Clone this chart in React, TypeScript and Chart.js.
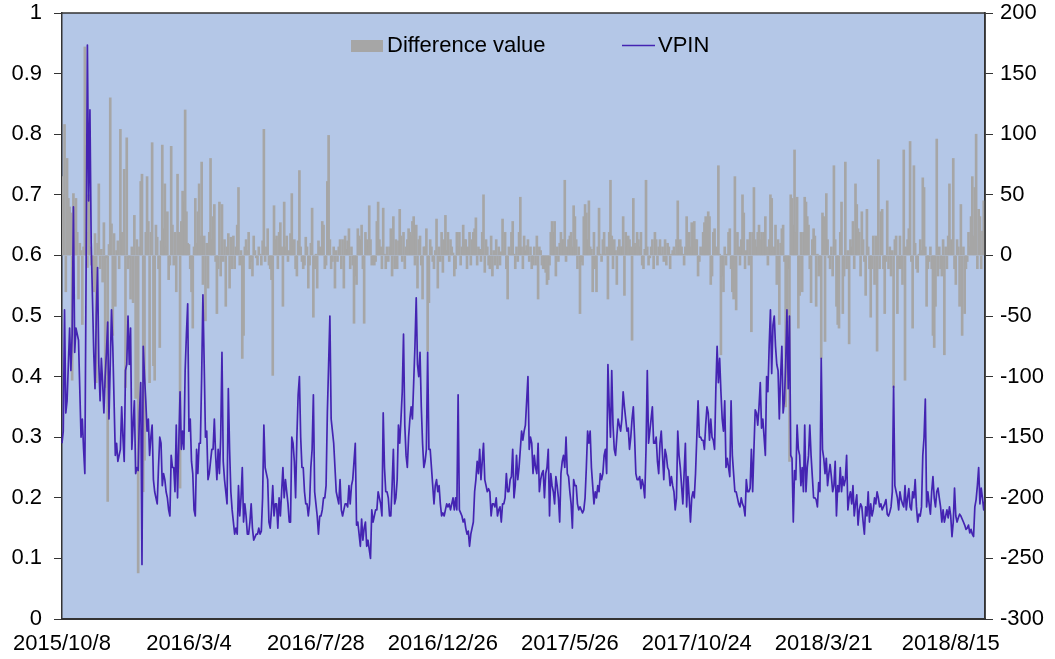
import React, { useEffect, useRef } from "react";
import { Chart, registerables } from "chart.js";

Chart.register(...registerables);

// ---- data ----
const tickDates = ["2015/10/8", "2016/3/4", "2016/7/28", "2016/12/26", "2017/5/26", "2017/10/24", "2018/3/21", "2018/8/15"];
const tickEvery = 100;

const vpin = [
  0.29, 0.31, 0.51, 0.34, 0.36, 0.42, 0.48, 0.41, 0.47, 0.68,
  0.44, 0.48, 0.47, 0.46, 0.38, 0.30, 0.33, 0.28, 0.24, 0.58,
  0.947, 0.69, 0.84, 0.62, 0.53, 0.44, 0.38, 0.50, 0.58, 0.42,
  0.36, 0.43, 0.39, 0.34, 0.40, 0.44, 0.49, 0.33, 0.42, 0.51,
  0.45, 0.36, 0.27, 0.29, 0.26, 0.27, 0.28, 0.35, 0.30, 0.26,
  0.41, 0.42, 0.50, 0.42, 0.48, 0.28, 0.32, 0.36, 0.24, 0.25,
  0.245, 0.34, 0.39, 0.09, 0.45, 0.40, 0.36, 0.31, 0.33, 0.27,
  0.30, 0.32, 0.23, 0.21, 0.20, 0.19, 0.25, 0.30, 0.29, 0.22,
  0.24, 0.23, 0.21, 0.20, 0.18, 0.17, 0.27, 0.25, 0.25, 0.21,
  0.32, 0.20, 0.29, 0.375, 0.28, 0.31, 0.28, 0.41, 0.47, 0.52,
  0.31, 0.33, 0.26, 0.24, 0.18, 0.17, 0.28, 0.24, 0.29, 0.29,
  0.40, 0.535, 0.42, 0.30, 0.31, 0.23, 0.24, 0.26, 0.28, 0.28,
  0.33, 0.27, 0.23, 0.28, 0.24, 0.30, 0.44, 0.26, 0.23, 0.21,
  0.19, 0.38, 0.28, 0.21, 0.18, 0.16, 0.14, 0.15, 0.14, 0.22,
  0.17, 0.20, 0.25, 0.16, 0.19, 0.17, 0.14, 0.14, 0.16, 0.19,
  0.15, 0.13, 0.135, 0.14, 0.14, 0.15, 0.14, 0.145, 0.20, 0.32,
  0.25, 0.24, 0.23, 0.16, 0.15, 0.18, 0.22, 0.17, 0.19, 0.19,
  0.15, 0.20, 0.17, 0.21, 0.25, 0.20, 0.23, 0.21, 0.19, 0.16,
  0.16, 0.30, 0.29, 0.26, 0.20, 0.30, 0.37, 0.40, 0.30, 0.25,
  0.25, 0.21, 0.19, 0.19, 0.17, 0.19, 0.25, 0.28, 0.37, 0.21,
  0.19, 0.17, 0.14, 0.17, 0.17, 0.18, 0.20, 0.20, 0.22, 0.34,
  0.42, 0.50, 0.33, 0.31, 0.29, 0.25, 0.21, 0.20, 0.19, 0.23,
  0.18, 0.17, 0.18, 0.19, 0.19, 0.185, 0.22, 0.19, 0.22, 0.23,
  0.26, 0.29, 0.155, 0.16, 0.14, 0.12, 0.165, 0.13, 0.15, 0.16,
  0.12, 0.13, 0.115, 0.10, 0.18, 0.16, 0.17, 0.18, 0.18, 0.21,
  0.20, 0.19, 0.17, 0.34, 0.25, 0.21, 0.21, 0.20, 0.17, 0.17,
  0.22, 0.28, 0.19, 0.20, 0.23, 0.32, 0.29, 0.33, 0.375, 0.47,
  0.32, 0.27, 0.25, 0.30, 0.33, 0.35, 0.33, 0.39, 0.45, 0.53,
  0.42, 0.40, 0.44, 0.35, 0.29, 0.25, 0.26, 0.28, 0.44, 0.28,
  0.28, 0.25, 0.22, 0.19, 0.22, 0.23, 0.21, 0.22, 0.19, 0.17,
  0.175, 0.17, 0.18, 0.19, 0.185, 0.19, 0.18, 0.19, 0.20, 0.18,
  0.20, 0.18, 0.37, 0.18, 0.175, 0.17, 0.16, 0.165, 0.15, 0.14,
  0.145, 0.12, 0.14, 0.15, 0.16, 0.21, 0.23, 0.26, 0.24, 0.28,
  0.23, 0.26, 0.29, 0.23, 0.22, 0.21, 0.215, 0.21, 0.17, 0.19,
  0.19, 0.185, 0.20, 0.17, 0.18, 0.185, 0.16, 0.19, 0.19, 0.20,
  0.24, 0.21, 0.21, 0.23, 0.235, 0.28, 0.20, 0.22, 0.27, 0.23,
  0.25, 0.28, 0.31, 0.295, 0.31, 0.32, 0.36, 0.40, 0.28, 0.30,
  0.29, 0.24, 0.27, 0.25, 0.24, 0.29, 0.21, 0.23, 0.24, 0.245,
  0.20, 0.24, 0.25, 0.28, 0.17, 0.24, 0.22, 0.21, 0.19, 0.235,
  0.22, 0.20, 0.16, 0.24, 0.26, 0.27, 0.25, 0.30, 0.24, 0.235,
  0.21, 0.19, 0.15, 0.23, 0.22, 0.22, 0.19, 0.18, 0.185, 0.18,
  0.175, 0.18, 0.20, 0.25, 0.31, 0.29, 0.31, 0.25, 0.22, 0.19,
  0.21, 0.20, 0.22, 0.21, 0.24, 0.23, 0.24, 0.27, 0.28, 0.24,
  0.42, 0.35, 0.30, 0.41, 0.32, 0.28, 0.27, 0.30, 0.33, 0.32,
  0.31, 0.33, 0.375, 0.35, 0.33, 0.31, 0.315, 0.28, 0.30, 0.33,
  0.35, 0.30, 0.24, 0.23, 0.23, 0.235, 0.215, 0.23, 0.22, 0.20,
  0.28, 0.41, 0.29, 0.31, 0.33, 0.35, 0.29, 0.29, 0.30, 0.26,
  0.24, 0.29, 0.31, 0.27, 0.23, 0.28, 0.27, 0.25, 0.245, 0.22,
  0.235, 0.22, 0.21, 0.18, 0.20, 0.31, 0.27, 0.25, 0.22, 0.19,
  0.24, 0.29, 0.185, 0.235, 0.20, 0.16, 0.20, 0.21, 0.20, 0.24,
  0.30, 0.36, 0.30, 0.30, 0.295, 0.295, 0.28, 0.32, 0.35, 0.34,
  0.295, 0.33, 0.30, 0.295, 0.28, 0.38, 0.45, 0.39, 0.43, 0.375,
  0.33, 0.31, 0.36, 0.25, 0.265, 0.25, 0.235, 0.36, 0.27, 0.24,
  0.21, 0.21, 0.20, 0.19, 0.185, 0.20, 0.19, 0.185, 0.17, 0.23,
  0.21, 0.21, 0.216, 0.28, 0.21, 0.28, 0.345, 0.34, 0.32, 0.35,
  0.39, 0.315, 0.33, 0.30, 0.27, 0.40, 0.375, 0.45, 0.51, 0.405,
  0.485, 0.50, 0.45, 0.42, 0.41, 0.33, 0.40, 0.45, 0.34, 0.36,
  0.42, 0.51, 0.38, 0.50, 0.27, 0.265, 0.16, 0.245, 0.23, 0.32,
  0.28, 0.27, 0.22, 0.25, 0.21, 0.32, 0.21, 0.25, 0.27, 0.32,
  0.27, 0.235, 0.20, 0.20, 0.197, 0.185, 0.225, 0.21, 0.43, 0.28,
  0.265, 0.24, 0.265, 0.22, 0.24, 0.255, 0.235, 0.21, 0.22, 0.26,
  0.17, 0.22, 0.21, 0.25, 0.21, 0.235, 0.22, 0.23, 0.27, 0.18,
  0.20, 0.21, 0.19, 0.22, 0.17, 0.19, 0.205, 0.155, 0.18, 0.19,
  0.185, 0.16, 0.14, 0.185, 0.17, 0.21, 0.16, 0.19, 0.17, 0.18,
  0.20, 0.19, 0.21, 0.20, 0.185, 0.19, 0.18, 0.185, 0.19, 0.197,
  0.173, 0.17, 0.176, 0.185, 0.21, 0.384, 0.22, 0.21, 0.20, 0.18,
  0.21, 0.197, 0.19, 0.185, 0.22, 0.18, 0.20, 0.215, 0.185, 0.18,
  0.21, 0.20, 0.23, 0.185, 0.16, 0.173, 0.17, 0.185, 0.27, 0.30,
  0.363, 0.185, 0.21, 0.19, 0.173, 0.21, 0.235, 0.20, 0.185, 0.21,
  0.216, 0.20, 0.185, 0.16, 0.18, 0.16, 0.17, 0.18, 0.167, 0.185,
  0.17, 0.136, 0.16, 0.216, 0.17, 0.16, 0.167, 0.173, 0.17, 0.165,
  0.16, 0.155, 0.148, 0.15, 0.155, 0.142, 0.148, 0.14, 0.136, 0.185,
  0.197, 0.22, 0.25, 0.19, 0.216, 0.20, 0.18, 0.197,
];

const differenceValue = [
  65, 50, 108, -30, 80, 47, 40, 35, -103, 51,
  38, 47, 19, -36, 10, 4, -57, 7, 172, 19,
  -10, 50, 7, -8, -5, -30, 18, -105, 10, 59,
  -11, 5, -22, 27, -109, -2, -203, 9, 130, 26,
  -66, 18, -42, 4, 12, -11, 104, 19, 13, 71,
  -109, 97, -11, -2, -36, 7, -39, 33, -118, 13,
  -262, 7, 61, 67, -195, -169, 19, 65, 28, -105,
  19, 93, -91, -103, 25, 15, -11, -76, 12, 91,
  22, 59, 7, 36, -20, -8, 90, 25, -8, 19,
  -30, 67, 19, -192, 28, 53, 44, 120, 36, 10,
  9, -11, -30, -60, 7, 47, 10, 36, 59, 16,
  77, -24, 16, -54, 10, -27, 19, 80, 13, 32,
  42, -5, -48, -11, 44, -17, 42, -5, 13, -42,
  7, 18, -27, 15, -11, 16, -11, 7, 25, 56,
  -8, 4, -85, -66, 7, 13, 4, 19, -11, -5,
  -17, 16, 4, -2, -8, 7, 1, -8, 12, 104,
  -5, 7, 22, -8, -11, -20, -99, 41, 13, 16,
  -11, 19, 27, 7, -42, 44, 7, 16, -5, 4,
  18, 51, 7, 13, -11, -17, 12, 70, 7, -5,
  -11, -8, 15, 7, -27, -8, 10, 39, -51, -11,
  1, -27, 12, 7, 4, 28, 25, -11, -8, 61,
  99, 13, -11, -5, 7, -27, 4, -5, 7, 13,
  -11, 13, -27, 16, 5, 12, 22, -11, 7, -8,
  -56, -17, -24, 22, 16, 13, 25, -11, -56, 19,
  13, 7, 41, 13, -8, -3, -8, -5, 28, 44,
  13, 7, -11, 39, 1, -11, 7, -5, 7, 22,
  -17, 32, -11, 13, -11, 12, 38, 16, -5, 19,
  -11, 7, 13, 22, 19, 16, 28, 32, -8, 25,
  -27, 13, 16, -8, -36, 7, 7, 22, -79, -39,
  13, 7, -5, -11, 4, 30, -27, 7, -5, 19,
  -14, 13, 33, 4, 19, -5, 13, 7, 2, -17,
  -11, 19, 7, 19, -8, 7, 25, 13, 13, -11,
  7, 19, -8, 13, 19, 22, 31, -8, 7, 5,
  -5, 19, 50, -14, 13, 7, -8, -11, 16, -17,
  4, -8, 13, -11, 7, -8, 3, 30, 4, 19,
  -11, -36, 7, 1, 19, 28, 1, -11, 7, -5,
  19, 48, 7, -11, 16, 4, 8, 13, -5, 7,
  -11, -8, 7, -8, 16, -36, 7, 4, -8, -11,
  -11, -14, -24, -20, -8, 19, 28, 19, 28, -17,
  7, -5, 10, 19, 13, 13, 62, -5, 7, 13,
  16, 19, 7, 41, 32, 13, -11, 7, -48, -5,
  -8, 32, 42, 35, 13, 45, 7, 5, -30, 19,
  -11, -30, 7, 39, 1, -5, 13, 19, 1, 7,
  -36, 19, 62, 16, -11, 13, 4, -24, 7, 13,
  7, 7, 32, -33, 19, 7, 16, 13, 7, -70,
  47, 10, 7, 19, 13, 7, 19, -8, -11, 5,
  62, 7, -8, -2, 7, 13, -11, 19, 13, -8,
  7, 13, 1, 7, -5, 13, -8, 10, 7, -11,
  1, 4, 7, 1, 13, 45, 7, 13, 7, 1,
  -8, 7, 32, 1, 19, 7, 27, 19, 28, 13,
  13, -17, -5, 7, 1, 19, 27, 32, 25, 36,
  32, -24, -17, 19, 22, 7, 4, 74, 1, -82,
  -17, -30, 7, -8, 1, 19, 22, -11, -30, -36,
  65, -45, 19, 7, -8, 13, 50, 35, -11, 4,
  13, -8, 19, -63, 19, 56, 13, 7, 19, 25,
  13, 19, 13, 19, 32, 7, -8, 13, 50, 47,
  3, 7, 25, -24, 13, -57, 10, 22, 25, -5,
  -125, -48, -11, -170, 50, 47, 25, 87, 19, 48,
  -60, -33, 19, -30, 19, 48, 44, 32, 25, -11,
  -39, 13, 22, 16, -42, 1, -17, -8, -85, 35,
  32, -71, 51, 13, -2, -11, 7, -17, 74, 13,
  -42, -57, -60, 19, 44, -48, -17, 77, -11, 4,
  -73, 13, 7, 28, -11, 59, 42, 22, 19, -17,
  36, 13, -5, -33, 38, 7, -11, -51, -11, 16,
  -24, 16, -79, 79, -11, 36, 38, -11, -48, -5,
  45, -11, 7, -17, 4, -109, 13, 16, -48, -11,
  16, -11, -24, 87, -103, 7, 13, 22, 94, -5,
  -60, 74, 10, -11, -14, 1, 13, 4, 64, 56,
  7, -42, -11, -5, 7, -11, -66, -76, -42, 96,
  -17, 7, -11, -17, 13, -82, 7, -11, 16, 59,
  13, 7, 80, -11, -24, 13, 7, -42, 42, -66,
  7, -48, -11, -5, 19, 7, 32, 65, 16, 56,
  100, -11, 38, 32, -11, 20, 45, 40,
];

const seriesNames = ["Difference value", "VPIN"];

// ---- styles ----
const BAR_COLOR = "#A6A6A6";
const LINE_COLOR = "#4424B2";
const PLOT_BG = "#B4C7E7";
const AXIS_COLOR = "#333333";
const FONT = { family: '"Liberation Sans", Arial, sans-serif', size: 22 };

const plotBackground = {
  id: "plotBackground",
  beforeDraw(chart: any) {
    const { ctx, chartArea } = chart;
    ctx.save();
    ctx.fillStyle = PLOT_BG;
    ctx.fillRect(chartArea.left, chartArea.top, chartArea.right - chartArea.left, chartArea.bottom - chartArea.top);
    ctx.restore();
  },
  afterDraw(chart: any) {
    const { ctx, chartArea } = chart;
    ctx.save();
    ctx.strokeStyle = AXIS_COLOR;
    ctx.lineWidth = 1.5;
    ctx.beginPath();
    ctx.moveTo(chartArea.left, chartArea.top);
    ctx.lineTo(chartArea.right, chartArea.top);
    ctx.lineTo(chartArea.right, chartArea.bottom);
    ctx.stroke();
    ctx.restore();
  },
};

const inlineLegend = {
  id: "inlineLegend",
  afterDraw(chart: any) {
    const { ctx, chartArea } = chart;
    const x0 = chartArea.left;
    const y0 = chartArea.top;
    const labels = chart.data.datasets.map((d: any) => d.label);
    ctx.save();
    ctx.font = `${FONT.size}px ${FONT.family}`;
    ctx.textBaseline = "middle";
    ctx.textAlign = "left";
    // bar item
    ctx.fillStyle = BAR_COLOR;
    ctx.fillRect(x0 + 289, y0 + 27, 32, 12);
    ctx.fillStyle = "#000";
    ctx.fillText(labels[1], x0 + 325, y0 + 33);
    // line item
    ctx.strokeStyle = LINE_COLOR;
    ctx.lineWidth = 1.5;
    ctx.beginPath();
    ctx.moveTo(x0 + 560, y0 + 32.5);
    ctx.lineTo(x0 + 593, y0 + 32.5);
    ctx.stroke();
    ctx.fillStyle = "#000";
    ctx.fillText(labels[0], x0 + 596, y0 + 33);
    ctx.restore();
  },
};

const fixVertical = (width: number) => (s: any) => {
  s.width = width;
  s.paddingTop = 13;
  s.paddingBottom = 0;
};

export default function App() {
  const ref = useRef<HTMLCanvasElement | null>(null);

  useEffect(() => {
    if (!ref.current) return;
    const labels = vpin.map((_, i) => (i % tickEvery === 0 ? tickDates[i / tickEvery] ?? "" : ""));
    const chart = new Chart(ref.current, {
      type: "bar",
      data: {
        labels,
        datasets: [
          {
            type: "line",
            label: seriesNames[1],
            data: vpin,
            yAxisID: "y",
            borderColor: LINE_COLOR,
            borderWidth: 1.7,
            pointRadius: 0,
            tension: 0,
            borderJoinStyle: "round",
            order: 0,
          } as any,
          {
            type: "bar",
            label: seriesNames[0],
            data: differenceValue,
            yAxisID: "y1",
            backgroundColor: BAR_COLOR,
            borderWidth: 0,
            barThickness: 2,
            order: 1,
          } as any,
        ],
      },
      options: {
        responsive: false,
        animation: false,
        events: [],
        layout: { padding: { top: 13, left: 0, right: 0, bottom: 0 } },
        plugins: { legend: { display: false }, tooltip: { enabled: false } },
        scales: {
          x: {
            type: "category",
            offset: false,
            grid: { display: false, drawTicks: false },
            border: { display: true, color: AXIS_COLOR, width: 2 },
            ticks: { autoSkip: false, maxRotation: 0, minRotation: 0, padding: 12, color: "#000", font: FONT },
            afterFit: (s: any) => {
              s.height = 40;
            },
          },
          y: {
            type: "linear",
            position: "left",
            min: 0,
            max: 1,
            ticks: {
              stepSize: 0.1,
              padding: 12,
              color: "#000",
              font: FONT,
              callback: (v: any) => String(Math.round(Number(v) * 10) / 10),
            },
            grid: { drawOnChartArea: false, drawTicks: true, tickLength: 8, color: AXIS_COLOR, lineWidth: 1 },
            border: { display: true, color: AXIS_COLOR, width: 1.5 },
            afterFit: fixVertical(62),
          },
          y1: {
            type: "linear",
            position: "right",
            min: -300,
            max: 200,
            ticks: { stepSize: 50, padding: 7, color: "#000", font: FONT },
            grid: { drawOnChartArea: false, drawTicks: true, tickLength: 8, color: AXIS_COLOR, lineWidth: 1 },
            border: { display: true, color: AXIS_COLOR, width: 1.5 },
            afterFit: fixVertical(70),
          },
        },
      },
      plugins: [plotBackground, inlineLegend],
    });
    return () => chart.destroy();
  }, []);

  return (
    <div style={{ position: "absolute", left: 0, top: 0, width: 1055, height: 659, background: "#fff" }}>
      <canvas ref={ref} width={1055} height={659} style={{ display: "block" }} />
    </div>
  );
}
